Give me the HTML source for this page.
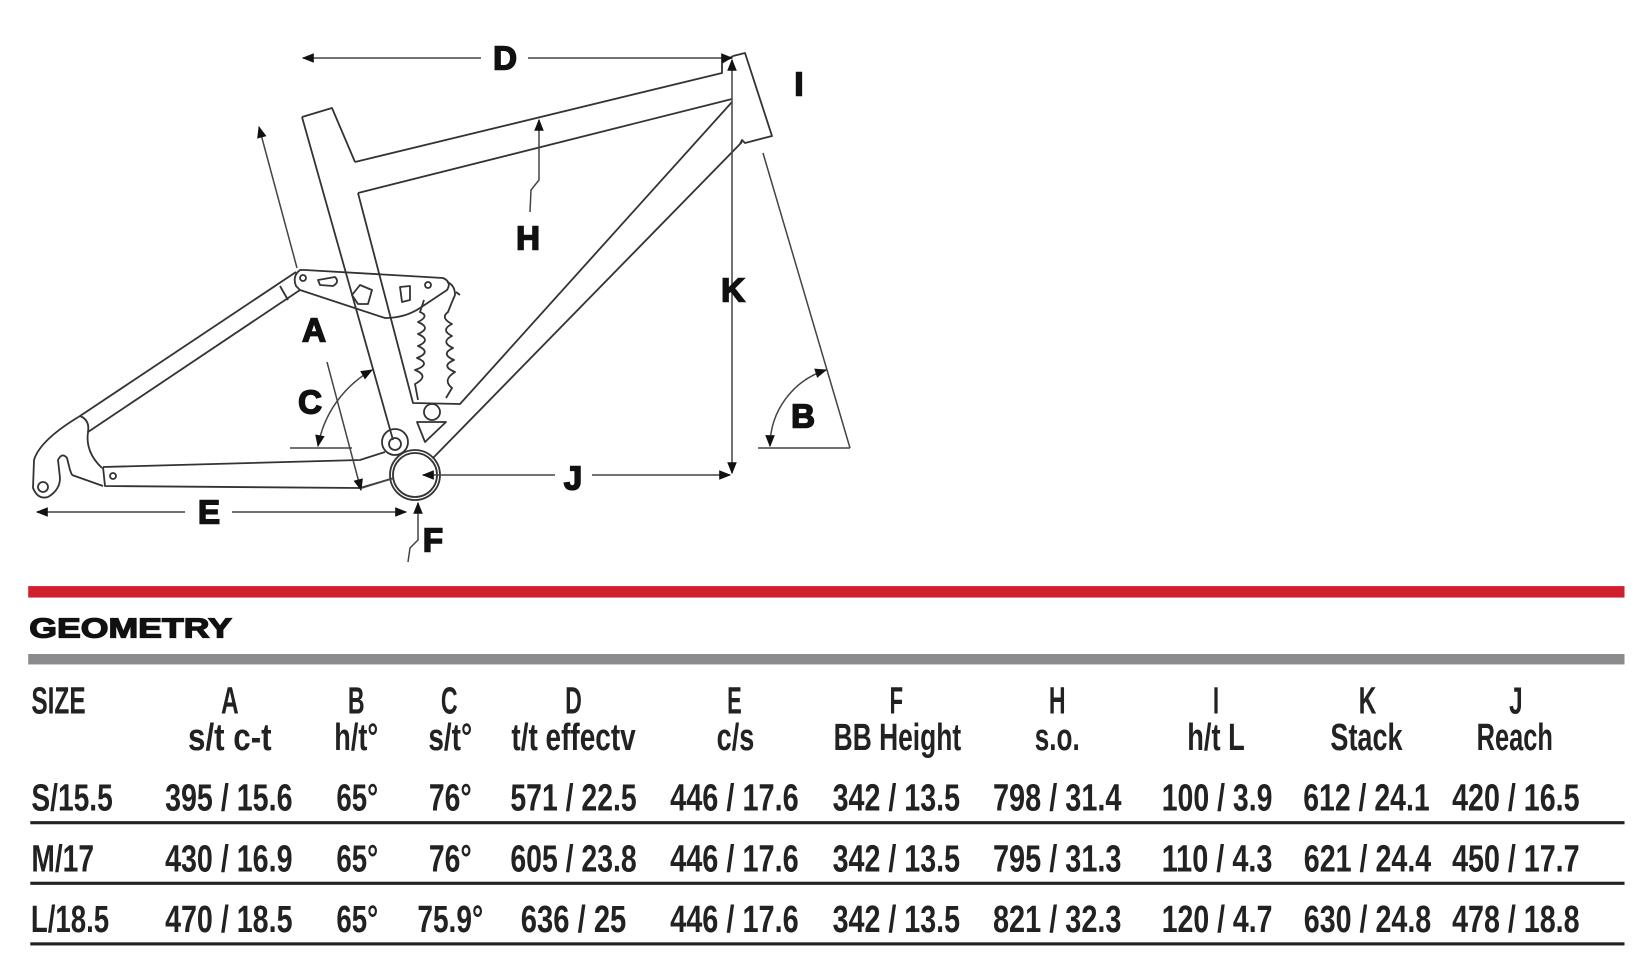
<!DOCTYPE html>
<html><head><meta charset="utf-8"><style>
html,body{margin:0;padding:0;background:#fff;}
svg{display:block;}
.lbl{font-family:"Liberation Sans",sans-serif;font-weight:bold;font-size:33px;fill:#111;stroke:#111;stroke-width:1.6;text-anchor:middle;dominant-baseline:central;}
.t{font-family:"Liberation Sans Narrow","Liberation Sans",sans-serif;font-weight:bold;font-size:36px;fill:#222;text-anchor:middle;}
</style></head><body>
<svg width="1638" height="962" viewBox="0 0 1638 962" xmlns="http://www.w3.org/2000/svg">
<defs>
<marker id="ar2" viewBox="0 0 10 10" refX="9" refY="5" markerWidth="14" markerHeight="12" orient="auto-start-reverse" markerUnits="userSpaceOnUse"><path d="M0,1 L10,5 L0,9 Z" fill="#111"/></marker>
</defs>
<g fill="none" stroke="#333" stroke-width="1.8" stroke-linejoin="round">
<path d="M302,117 L332,108 L355,162"/>
<path d="M302,117 L393,440"/>
<path d="M358,193 L413,403 L460,404 L732,102"/>
<path d="M355,162 L722,73 L722,63 L733,56"/>
<path d="M358,193 L732,99"/>
<path d="M733,56 L745,53 L772,136 L745,143 L742,140 L740,144"/>
<path d="M742,142 L433,458"/>
<circle cx="415" cy="475" r="22"/>
<circle cx="415" cy="475" r="25"/>
<path d="M296,272 L80,416 Q40,440 34,460 L33,488 Q38,500 48,497 Q60,490 60,478 L58,460 Q62,452 67,458 L70,470 L72,475"/>
<path d="M300,290 L88,432"/>
<path d="M80,416 Q90,420 88,432 Q85,452 102,468"/>
<circle cx="43" cy="487" r="5"/>
<path d="M280,286 L288,300"/>
<path d="M72,475 L103,486"/>
<path d="M103,467 L105,486 L360,488"/>
<path d="M103,467 L360,460 L385,452"/>
<circle cx="113" cy="476" r="3"/>
<circle cx="395" cy="442" r="13"/>
<circle cx="395" cy="444" r="6"/>
<path d="M360,488 L394,478"/>
<path d="M300,270 Q292,276 296,286 L300,290 L385,318 Q405,318 420,308 L447,290 Q452,282 443,278 L305,270 Z"/>
<circle cx="303" cy="278" r="3"/>
<circle cx="428" cy="285" r="3"/>
<path d="M318,280 L335,277 Q340,282 333,286 L320,285 Z"/>
<path d="M352,295 L360,285 L372,290 L368,304 L358,304 Z"/>
<path d="M400,287 L410,286 L410,300 L402,302 Z"/>
<path d="M447,282 Q455,285 455,295 L452,302 M456,292 L460,295"/>
<path d="M424,300 L420,312 Q430,316 418,322 Q432,328 418,334 Q432,340 418,346 Q432,352 417,358 Q432,364 415,370 Q430,376 415,384 L418,400"/>
<path d="M452,302 L448,312 Q440,318 452,324 Q440,330 452,336 Q440,342 453,348 Q440,354 454,360 Q440,366 455,372 Q442,380 452,388 L446,398"/>
<circle cx="432" cy="412" r="8"/>
<path d="M417,422 L446,422 L425,442 Z"/>
</g>
<g stroke="#444" stroke-width="1.5" fill="none">
<line x1="303" y1="58" x2="481" y2="58" marker-start="url(#ar2)"/>
<line x1="528" y1="58" x2="732" y2="58" marker-end="url(#ar2)"/>
<line x1="732" y1="60" x2="732" y2="473" marker-start="url(#ar2)" marker-end="url(#ar2)"/>
<line x1="423" y1="475" x2="555" y2="475" marker-start="url(#ar2)"/>
<line x1="592" y1="475" x2="730" y2="475" marker-end="url(#ar2)"/>
<line x1="763" y1="153" x2="850" y2="448"/>
<line x1="758" y1="448" x2="850" y2="448"/>
<path d="M826,370 A80,80 0 0 0 770,446" marker-start="url(#ar2)" marker-end="url(#ar2)"/>
<path d="M539,120 L539,180 L531,190 L530,212" marker-start="url(#ar2)"/>
<line x1="259" y1="127" x2="297" y2="268" marker-start="url(#ar2)"/>
<line x1="327" y1="362" x2="361" y2="490" marker-end="url(#ar2)"/>
<line x1="362" y1="488" x2="394" y2="478"/>
<path d="M372,370 A110,110 0 0 0 318,446" marker-start="url(#ar2)" marker-end="url(#ar2)"/>
<line x1="290" y1="448" x2="352" y2="448"/>
<line x1="37" y1="512" x2="185" y2="512" marker-start="url(#ar2)"/>
<line x1="232" y1="512" x2="406" y2="512" marker-end="url(#ar2)"/>
<path d="M418,503 L418,540 L410,548 L408,562" marker-start="url(#ar2)"/>
</g>
<text class="lbl" x="505" y="58">D</text>
<text class="lbl" x="799" y="84">I</text>
<text class="lbl" x="528" y="238">H</text>
<text class="lbl" x="733" y="290">K</text>
<text class="lbl" x="314" y="330">A</text>
<text class="lbl" x="310" y="402">C</text>
<text class="lbl" x="803" y="416">B</text>
<text class="lbl" x="573" y="478">J</text>
<text class="lbl" x="209" y="512">E</text>
<text class="lbl" x="433" y="540">F</text>

<g transform="scale(1.0447)">
<rect x="27" y="561" width="1528" height="11" fill="#d11f2e"/>
<text x="28" y="610" style="font-family:'Liberation Sans',sans-serif;font-weight:bold;font-size:27px;fill:#111;stroke:#111;stroke-width:1.2" textLength="194" lengthAdjust="spacingAndGlyphs">GEOMETRY</text>
<rect x="27" y="626" width="1528" height="10" fill="#8a8b8d"/>
<rect x="29" y="786" width="1526" height="3" fill="#222"/>
<rect x="29" y="844" width="1526" height="3" fill="#222"/>
<rect x="29" y="902" width="1526" height="3" fill="#222"/>
<g class="t">
<text x="56" y="683" textLength="52" lengthAdjust="spacingAndGlyphs">SIZE</text>
<text x="220" y="683" textLength="17" lengthAdjust="spacingAndGlyphs">A</text>
<text x="341" y="683" textLength="16" lengthAdjust="spacingAndGlyphs">B</text>
<text x="430" y="683" textLength="16" lengthAdjust="spacingAndGlyphs">C</text>
<text x="549" y="683" textLength="16" lengthAdjust="spacingAndGlyphs">D</text>
<text x="703" y="683" textLength="14" lengthAdjust="spacingAndGlyphs">E</text>
<text x="858" y="683" textLength="13" lengthAdjust="spacingAndGlyphs">F</text>
<text x="1012" y="683" textLength="16" lengthAdjust="spacingAndGlyphs">H</text>
<text x="1164" y="683" textLength="6" lengthAdjust="spacingAndGlyphs">I</text>
<text x="1309" y="683" textLength="17" lengthAdjust="spacingAndGlyphs">K</text>
<text x="1451" y="683" textLength="13" lengthAdjust="spacingAndGlyphs">J</text>
<text x="220" y="718" textLength="80" lengthAdjust="spacingAndGlyphs">s/t c-t</text>
<text x="341" y="718" textLength="42" lengthAdjust="spacingAndGlyphs">h/t°</text>
<text x="431" y="718" textLength="42" lengthAdjust="spacingAndGlyphs">s/t°</text>
<text x="549" y="718" textLength="119" lengthAdjust="spacingAndGlyphs">t/t effectv</text>
<text x="704" y="718" textLength="36" lengthAdjust="spacingAndGlyphs">c/s</text>
<text x="859" y="718" textLength="122" lengthAdjust="spacingAndGlyphs">BB Height</text>
<text x="1012" y="718" textLength="43" lengthAdjust="spacingAndGlyphs">s.o.</text>
<text x="1164" y="718" textLength="55" lengthAdjust="spacingAndGlyphs">h/t L</text>
<text x="1308" y="718" textLength="69" lengthAdjust="spacingAndGlyphs">Stack</text>
<text x="1450" y="718" textLength="73" lengthAdjust="spacingAndGlyphs">Reach</text>
</g>
<g class="t">
<text x="69" y="776" textLength="78" lengthAdjust="spacingAndGlyphs">S/15.5</text>
<text x="219" y="776" textLength="122" lengthAdjust="spacingAndGlyphs">395 / 15.6</text>
<text x="342" y="776" textLength="40" lengthAdjust="spacingAndGlyphs">65°</text>
<text x="431" y="776" textLength="41" lengthAdjust="spacingAndGlyphs">76°</text>
<text x="549" y="776" textLength="121" lengthAdjust="spacingAndGlyphs">571 / 22.5</text>
<text x="703" y="776" textLength="123" lengthAdjust="spacingAndGlyphs">446 / 17.6</text>
<text x="858" y="776" textLength="122" lengthAdjust="spacingAndGlyphs">342 / 13.5</text>
<text x="1012" y="776" textLength="123" lengthAdjust="spacingAndGlyphs">798 / 31.4</text>
<text x="1165" y="776" textLength="106" lengthAdjust="spacingAndGlyphs">100 / 3.9</text>
<text x="1308" y="776" textLength="121" lengthAdjust="spacingAndGlyphs">612 / 24.1</text>
<text x="1451" y="776" textLength="122" lengthAdjust="spacingAndGlyphs">420 / 16.5</text>

<text x="60" y="834" textLength="60" lengthAdjust="spacingAndGlyphs">M/17</text>
<text x="219" y="834" textLength="122" lengthAdjust="spacingAndGlyphs">430 / 16.9</text>
<text x="342" y="834" textLength="40" lengthAdjust="spacingAndGlyphs">65°</text>
<text x="431" y="834" textLength="41" lengthAdjust="spacingAndGlyphs">76°</text>
<text x="549" y="834" textLength="121" lengthAdjust="spacingAndGlyphs">605 / 23.8</text>
<text x="703" y="834" textLength="123" lengthAdjust="spacingAndGlyphs">446 / 17.6</text>
<text x="858" y="834" textLength="122" lengthAdjust="spacingAndGlyphs">342 / 13.5</text>
<text x="1012" y="834" textLength="123" lengthAdjust="spacingAndGlyphs">795 / 31.3</text>
<text x="1165" y="834" textLength="106" lengthAdjust="spacingAndGlyphs">110 / 4.3</text>
<text x="1309" y="834" textLength="122" lengthAdjust="spacingAndGlyphs">621 / 24.4</text>
<text x="1451" y="834" textLength="122" lengthAdjust="spacingAndGlyphs">450 / 17.7</text>

<text x="67" y="892" textLength="75" lengthAdjust="spacingAndGlyphs">L/18.5</text>
<text x="219" y="892" textLength="122" lengthAdjust="spacingAndGlyphs">470 / 18.5</text>
<text x="342" y="892" textLength="40" lengthAdjust="spacingAndGlyphs">65°</text>
<text x="431" y="892" textLength="63" lengthAdjust="spacingAndGlyphs">75.9°</text>
<text x="549" y="892" textLength="101" lengthAdjust="spacingAndGlyphs">636 / 25</text>
<text x="703" y="892" textLength="123" lengthAdjust="spacingAndGlyphs">446 / 17.6</text>
<text x="858" y="892" textLength="122" lengthAdjust="spacingAndGlyphs">342 / 13.5</text>
<text x="1012" y="892" textLength="123" lengthAdjust="spacingAndGlyphs">821 / 32.3</text>
<text x="1165" y="892" textLength="106" lengthAdjust="spacingAndGlyphs">120 / 4.7</text>
<text x="1309" y="892" textLength="122" lengthAdjust="spacingAndGlyphs">630 / 24.8</text>
<text x="1451" y="892" textLength="122" lengthAdjust="spacingAndGlyphs">478 / 18.8</text>
</g>
</g>
</svg>
</body></html>
